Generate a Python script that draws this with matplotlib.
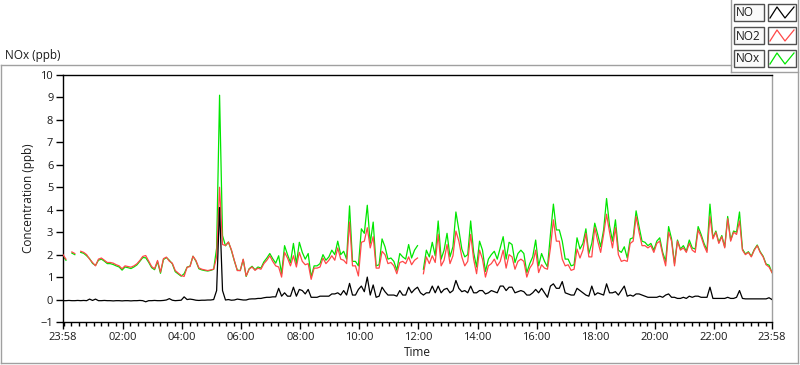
import numpy as np
import matplotlib.pyplot as plt
from matplotlib.patches import Rectangle

plt.rcParams['font.family'] = ['Open Sans', 'DejaVu Sans']

nan = np.nan

# 6-minute readings starting 23:58 (ppb)
step_min = 6
no2 = np.array([
    2.0, 1.8, nan, 2.12, 2.05, nan, 2.15, 2.1, 2.0, 1.8,
    1.65, 1.5, 1.8, 1.85, 1.75, 1.65, 1.65, 1.62, 1.55, 1.5,
    1.37, 1.5, 1.47, 1.44, 1.5, 1.59, 1.74, 1.92, 1.96, 1.71,
    1.47, 1.37, 1.74, 1.22, 1.82, 1.89, 1.71, 1.62, 1.29, 1.18,
    1.07, 1.03, 1.44, 1.47, 1.93, 1.74, 1.41, 1.35, 1.32, 1.29,
    1.32, 1.35, 1.89, 5.0, 2.45, 2.41, 2.56, 2.22, 1.74, 1.29,
    1.29, 1.8, 1.05, 1.35, 1.45, 1.3, 1.4, 1.35, 1.6, 1.75,
    1.95, 1.7, 1.5, 1.45, 1.0, 2.1, 1.85, 1.5, 1.95, 1.45,
    2.1, 1.7, 1.55, 1.6, 0.9, 1.4, 1.4, 1.45, 1.85, 1.6,
    1.75, 1.95, 1.75, 2.3, 1.8, 1.75, 1.6, 3.45, 1.5, 1.5,
    1.05, 2.55, 2.6, 3.2, 2.3, 2.8, 1.4, 1.4, 2.15, 2.0,
    1.6, 1.65, 1.5, 1.15, 1.65, 1.7, 1.6, 1.9, 1.55, 1.75,
    1.85, nan, 1.15, 1.9, 1.6, 1.95, 1.65, 2.9, 1.5, 1.75,
    2.45, 1.6, 1.95, 3.05, 2.6, 1.9, 1.5, 1.7, 2.9, 1.8,
    1.15, 2.2, 1.8, 1.0, 1.5, 1.6, 1.8, 1.5, 1.7, 2.2,
    1.4, 2.0, 1.9, 1.35, 1.7, 1.8, 1.7, 1.0, 1.4, 1.6,
    2.2, 1.2, 1.55, 1.4, 1.35, 2.3, 3.55, 2.6, 2.6, 1.8,
    1.5, 1.55, 1.3, 1.35, 2.25, 1.85, 2.2, 2.95, 1.9, 1.9,
    3.2, 2.6, 2.1, 2.9, 3.8, 3.0, 2.3, 3.2, 2.0, 1.7,
    1.75, 1.7, 2.5, 2.6, 3.7, 3.0, 2.4, 2.4, 2.3, 2.4,
    2.1, 2.5, 2.6, 2.0, 1.5, 3.0, 2.6, 1.5, 2.6, 2.2,
    2.3, 2.1, 2.5, 2.2, 2.1, 3.1, 2.8, 2.4, 2.1, 3.7,
    2.7, 3.0, 2.5, 2.8, 2.3, 3.6, 2.6, 3.0, 2.9, 3.5,
    2.2, 2.0, 2.1, 1.9, 2.2, 2.4, 2.1, 1.9, 1.55, 1.45,
    1.2,
])
no = np.array([
    -0.05, -0.05, -0.04, -0.05, -0.05, -0.04, -0.05, -0.04, -0.05, 0.02,
    -0.04, 0.02, -0.05, -0.05, -0.04, -0.05, -0.05, -0.06, -0.05, -0.05,
    -0.06, -0.05, -0.05, -0.06, -0.05, -0.05, -0.04, -0.05, -0.1, -0.05,
    -0.05, -0.04, -0.05, -0.05, -0.04, -0.02, 0.04, -0.03, -0.05, -0.04,
    -0.03, 0.12, 0.0, 0.02, 0.0, -0.03, -0.04, -0.03, -0.03, -0.02,
    -0.02, 0.0, 0.4, 4.1, 0.4, -0.02, 0.0, -0.03, -0.02, 0.02,
    0.0, -0.02, -0.02, 0.02, 0.03, 0.03, 0.05, 0.05, 0.08, 0.1,
    0.1, 0.12, 0.12, 0.5, 0.15, 0.3, 0.15, 0.15, 0.55, 0.15,
    0.45, 0.4, 0.25, 0.45, 0.1, 0.1, 0.1, 0.15, 0.15, 0.15,
    0.15, 0.25, 0.25, 0.3, 0.2, 0.4, 0.2, 0.72, 0.2, 0.2,
    0.45, 0.6, 0.35, 1.0, 0.2, 0.65, 0.1, 0.15, 0.55, 0.35,
    0.2, 0.2, 0.2, 0.15, 0.4, 0.2, 0.2, 0.55, 0.3, 0.45,
    0.55, 0.3, 0.2, 0.3, 0.3, 0.6, 0.3, 0.6, 0.3, 0.45,
    0.5, 0.3, 0.4, 0.85, 0.5, 0.35, 0.4, 0.3, 0.6, 0.3,
    0.3, 0.4, 0.4, 0.25, 0.3, 0.4, 0.35, 0.3, 0.6, 0.6,
    0.4, 0.55, 0.55, 0.3, 0.35, 0.4, 0.35, 0.2, 0.2, 0.3,
    0.45, 0.3, 0.5, 0.3, 0.1, 0.6, 0.7, 0.5, 0.5, 0.8,
    0.3, 0.25, 0.2, 0.2, 0.5, 0.4, 0.3, 0.2, 0.15, 0.6,
    0.2, 0.3, 0.25, 0.2, 0.7, 0.3, 0.3, 0.35, 0.2, 0.4,
    0.6, 0.15, 0.2, 0.15, 0.25, 0.25, 0.2, 0.15, 0.1, 0.1,
    0.1, 0.1, 0.15, 0.1, 0.2, 0.25, 0.1, 0.1, 0.05, 0.05,
    0.1, 0.05, 0.15, 0.1, 0.15, 0.15, 0.1, 0.1, 0.1, 0.55,
    0.05, 0.05, 0.05, 0.05, 0.05, 0.1, 0.05, 0.05, 0.1, 0.4,
    0.05, 0.03, 0.03, 0.03, 0.03, 0.03, 0.03, 0.03, 0.03, 0.08,
    0.0,
])
nox = no2 + no
minutes = np.arange(len(no2)) * step_min

series_names = ['NO', 'NO2', 'NOx']
series_colors = ['black', '#ff4848', '#00e600']

# x axis: minutes since 23:58
major_pos = [0] + [h * 60 + 2 for h in range(2, 24, 2)] + [1440]
major_lab = ['23:58'] + ['%02d:00' % h for h in range(2, 24, 2)] + ['23:58']
minor_pos = [2 + 15 * k for k in range(96)]

W, H = 800, 365
fig = plt.figure(figsize=(W / 100, H / 100), dpi=100)
fig.patch.set_facecolor('white')

ax = fig.add_axes([63 / W, 1 - 322 / H, (772 - 63) / W, (322 - 75) / H])
ax.plot(minutes, nox, color=series_colors[2], lw=0.9, zorder=2)
ax.plot(minutes, no2, color=series_colors[1], lw=0.9, zorder=3)
ax.plot(minutes, no, color=series_colors[0], lw=0.9, zorder=4)

ax.set_xlim(0, 1440)
ax.set_ylim(-1, 10)
ax.set_yticks(range(-1, 11))
ax.set_xticks(major_pos)
ax.set_xticklabels(major_lab)
ax.set_xticks(minor_pos, minor=True)

for s in ['left', 'bottom', 'top']:
    ax.spines[s].set_color('black')
    ax.spines[s].set_linewidth(1.0)
ax.spines['right'].set_color('#a0a0a0')
ax.spines['right'].set_linewidth(1.0)

ax.tick_params(which='major', direction='out', length=5, width=1, colors='black',
               labelsize=8, labelcolor='#1a1a1a', pad=2)
ax.tick_params(which='minor', direction='out', length=3, width=1, colors='black')

ax.set_ylabel('Concentration (ppb)', fontsize=8.5, color='#1a1a1a', labelpad=4)
ax.set_xlabel('Time', fontsize=8.5, color='#1a1a1a', labelpad=2)

# overlay in pixel coordinates for panel frame and legend
ov = fig.add_axes([0, 0, 1, 1])
ov.set_xlim(0, W)
ov.set_ylim(H, 0)
ov.axis('off')

frame = '#a0a0a0'
ov.plot([0.5, 731], [65, 65], color=frame, lw=1)
ov.plot([0.5, 0.5], [65, 363], color=frame, lw=1)
ov.plot([0.5, 798], [363, 363], color=frame, lw=1)
ov.plot([798, 798], [0, 363], color=frame, lw=1)
ov.plot([731, 731], [0, 72], color=frame, lw=1)
ov.plot([731, 798], [72, 72], color=frame, lw=1)

ov.text(5, 55, 'NOx (ppb)', fontsize=8.5, color='#1a1a1a', va='center', ha='left')

rows = [(4, 21), (27, 44), (50, 67)]
for (y0, y1), name, col in zip(rows, series_names, series_colors):
    ov.add_patch(Rectangle((734, y0), 30, y1 - y0, facecolor='#fafafa',
                           edgecolor='#505050', lw=1))
    ov.text(735.5, (y0 + y1) / 2 + 0.5, name, fontsize=8.5, color='#1a1a1a',
            va='center', ha='left')
    ov.add_patch(Rectangle((768, y0), 28, y1 - y0, facecolor='white',
                           edgecolor='#505050', lw=1))
    ov.plot([770, 777, 785, 794], [y1 - 3, y0 + 3, y1 - 3, y0 + 3], color=col, lw=0.9)

fig.savefig('out.png', dpi=100)
